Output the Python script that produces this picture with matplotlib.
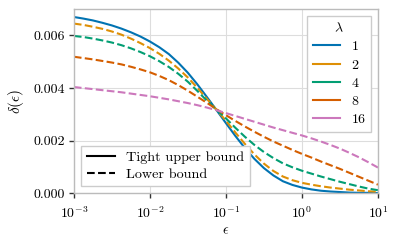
import numpy as np
import matplotlib
matplotlib.use("Agg")
import matplotlib.pyplot as plt
from matplotlib.lines import Line2D

plt.rcParams.update({
    "font.family": "serif",
    "font.serif": ["cmr10", "DejaVu Serif"],
    "mathtext.fontset": "cm",
    "axes.formatter.use_mathtext": True,
    "axes.unicode_minus": False,
    "font.size": 10,
})

# log10(epsilon) sample positions, every 1/8 decade
log_eps = np.arange(-3, 1.0001, 0.125)
eps = 10.0 ** log_eps

lambdas = ["1", "2", "4", "8", "16"]

# lambda = 1 (tight upper bound)
delta_1 = [0.00670, 0.00664, 0.00657, 0.00648, 0.00638, 0.00626, 0.00612, 0.00596, 0.00577,
           0.00555, 0.00529, 0.00496, 0.00458, 0.00414, 0.00366, 0.00317, 0.00267,
           0.00218, 0.00172, 0.00131, 0.00096, 0.00068, 0.00046, 0.00032, 0.00022,
           0.00015, 0.00010, 0.00007, 0.00005, 0.00003, 0.00002, 0.00002, 0.00001]
# lower bounds
delta_2 = [0.00645, 0.00640, 0.00633, 0.00625, 0.00615, 0.00603, 0.00588, 0.00571, 0.00552,
           0.00530, 0.00504, 0.00474, 0.00440, 0.00401, 0.00359, 0.00318, 0.00276,
           0.00231, 0.00188, 0.00148, 0.00113, 0.00085, 0.00064, 0.00050, 0.00040,
           0.00033, 0.00027, 0.00022, 0.00018, 0.00014, 0.00011, 0.00008, 0.00006]
delta_4 = [0.00598, 0.00594, 0.00588, 0.00581, 0.00573, 0.00563, 0.00551, 0.00537, 0.00521,
           0.00502, 0.00480, 0.00454, 0.00424, 0.00389, 0.00352, 0.00318, 0.00285,
           0.00249, 0.00215, 0.00184, 0.00157, 0.00134, 0.00114, 0.00099, 0.00086,
           0.00075, 0.00064, 0.00054, 0.00044, 0.00035, 0.00026, 0.00018, 0.00012]
delta_8 = [0.00519, 0.00514, 0.00509, 0.00503, 0.00497, 0.00490, 0.00481, 0.00471, 0.00460,
           0.00446, 0.00430, 0.00411, 0.00390, 0.00367, 0.00344, 0.00320, 0.00297,
           0.00275, 0.00254, 0.00234, 0.00215, 0.00197, 0.00181, 0.00165, 0.00150,
           0.00136, 0.00121, 0.00107, 0.00093, 0.00078, 0.00063, 0.00048, 0.00033]
delta_16 = [0.00404, 0.00400, 0.00396, 0.00392, 0.00388, 0.00384, 0.00379, 0.00374, 0.00369,
            0.00363, 0.00357, 0.00350, 0.00343, 0.00335, 0.00326, 0.00316, 0.00305,
            0.00294, 0.00283, 0.00272, 0.00261, 0.00250, 0.00240, 0.00230, 0.00220,
            0.00209, 0.00197, 0.00184, 0.00170, 0.00154, 0.00137, 0.00118, 0.00098]

series = [delta_1, delta_2, delta_4, delta_8, delta_16]
styles = ["-", "--", "--", "--", "--"]
colors = ["#0173b2", "#de8f05", "#029e73", "#d55e00", "#cc78bc"]

fig = plt.figure(figsize=(3.97, 2.46), dpi=100)
ax = fig.add_axes([0.186, 0.214, 0.766, 0.749])

for vals, ls, c in zip(series, styles, colors):
    ax.plot(eps, vals, ls=ls, color=c, lw=1.5)

ax.set_xscale("log")
ax.set_xlim(1e-3, 1e1)
ax.set_ylim(0, 0.007)
ax.set_yticks([0, 0.002, 0.004, 0.006])
ax.set_yticklabels(["0.000", "0.002", "0.004", "0.006"])
ax.minorticks_off()
ax.set_xticks([1e-3, 1e-2, 1e-1, 1e0, 1e1])

ax.grid(True, color="#dddddd", lw=0.8)
ax.set_axisbelow(True)
for s in ax.spines.values():
    s.set_color("#bbbbbb")
    s.set_linewidth(1.0)
ax.tick_params(length=3.5, width=1, color="#333333", pad=3)
ax.tick_params(axis="x", pad=5)

ax.set_xlabel(r"$\epsilon$", labelpad=3)
ax.set_ylabel(r"$\delta(\epsilon)$", labelpad=5, fontsize=11)

handles = [Line2D([], [], color=c, lw=1.5) for c in colors]
leg1 = ax.legend(handles, lambdas, title=r"$\lambda$", loc="upper right",
                 fancybox=False, edgecolor="#cccccc", framealpha=1,
                 title_fontsize=10, fontsize=10, labelspacing=0.4)
leg1.get_frame().set_linewidth(1.0)
ax.add_artist(leg1)

kinds = [Line2D([], [], color="black", lw=1.5, ls="-"),
         Line2D([], [], color="black", lw=1.5, ls="--")]
leg2 = ax.legend(kinds, ["Tight upper bound", "Lower bound"], loc="lower left",
                 fancybox=False, edgecolor="#cccccc", framealpha=1,
                 labelspacing=0.25, fontsize=10.2)
leg2.get_frame().set_linewidth(1.0)

fig.savefig("out.png", dpi=100)
